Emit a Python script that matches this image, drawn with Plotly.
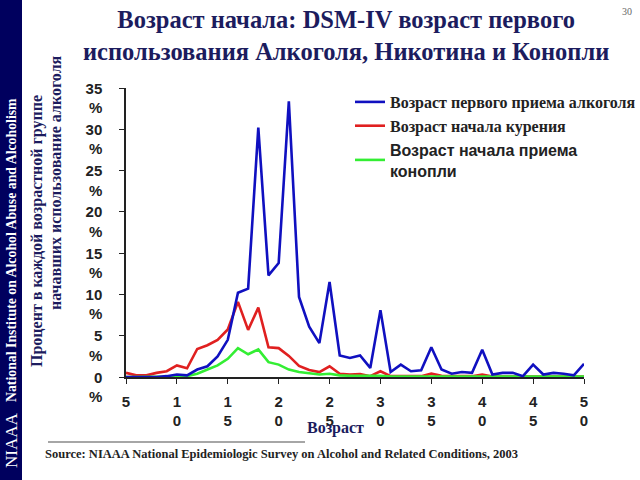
import plotly.graph_objects as go

ages = list(range(5, 51))
alcohol = [0, 0, 0, 0, 0.1, 0.3, 0.2, 0.9, 1.3, 2.5, 4.5, 10.2, 10.7, 30.2, 12.3, 13.8,
           33.4, 9.7, 6.1, 4.1, 11.5, 2.6, 2.3, 2.6, 1.1, 8.1, 0.6, 1.5, 0.7, 0.8, 3.6,
           0.9, 0.4, 0.6, 0.5, 3.3, 0.3, 0.5, 0.5, 0.1, 1.5, 0.3, 0.5, 0.4, 0.2, 1.6]
smoking = [0.5, 0.2, 0.2, 0.5, 0.7, 1.4, 1.05, 3.4, 3.85, 4.5, 5.75, 9.1, 5.7, 8.4, 3.6, 3.5,
           2.55, 1.35, 0.85, 0.6, 1.3, 0.4, 0.3, 0.35, 0.1, 0.7, 0.1, 0.1, 0.15, 0.1, 0.4,
           0.15, 0.1, 0.1, 0.1, 0.3, 0.05, 0.05, 0.05, 0.05, 0.1, 0.05, 0.05, 0.05, 0.05, 0.05]
cannabis = [0, 0, 0, 0, 0, 0.05, 0.1, 0.4, 0.9, 1.4, 2.2, 3.5, 2.75, 3.35, 1.8, 1.5,
            0.9, 0.6, 0.45, 0.3, 0.4, 0.2, 0.15, 0.15, 0.1, 0.15, 0.05, 0.05, 0.05, 0.05, 0.05,
            0.05, 0.05, 0.05, 0.05, 0.05, 0.05, 0.05, 0.05, 0.05, 0.05, 0.05, 0.05, 0.05, 0.05, 0.05]

names = ['<span style="font-family:Liberation Serif">Возраст первого приема алкоголя</span>',
         '<span style="font-family:Liberation Serif">Возраст начала курения</span>',
         '<span style="font-family:Liberation Sans">Возраст начала приема<br>конопли</span>']
x_tick_vals = [5, 10, 15, 20, 25, 30, 35, 40, 45, 50]
x_tick_text = ["5", "1<br>0", "1<br>5", "2<br>0", "2<br>5", "3<br>0", "3<br>5", "4<br>0", "4<br>5", "5<br>0"]
y_tick_vals = [0, 5, 10, 15, 20, 25, 30, 35]
y_tick_text = ["0<br>%", "5<br>%", "10<br>%", "15<br>%", "20<br>%", "25<br>%", "30<br>%", "35<br>%"]

NAVY = "#1c1c5e"
fig = go.Figure()
fig.add_trace(go.Scatter(x=ages, y=smoking, mode="lines", name=names[1], legendrank=2,
                         legendgroup="b", line=dict(color="#e02020", width=2.6)))
fig.add_trace(go.Scatter(x=ages, y=cannabis, mode="lines", name=names[2], legendrank=3,
                         legendgroup="c", line=dict(color="#33ee33", width=2.6)))
fig.add_trace(go.Scatter(x=ages, y=alcohol, mode="lines", name=names[0], legendrank=1,
                         legendgroup="a", line=dict(color="#1010c0", width=2.6)))

L, R, T, B = 126, 56, 88, 103
W = 640 - L - R
H = 480 - T - B
def px(x):
    return (x - L) / W
def py(y):
    return (480 - B - y) / H

fig.update_layout(
    width=640, height=480,
    margin=dict(l=L, r=R, t=T, b=B, autoexpand=False),
    paper_bgcolor="white", plot_bgcolor="white",
    showlegend=True,
    legend=dict(x=px(350), y=py(85), xanchor="left", yanchor="top",
                font=dict(family="Liberation Serif", size=16, color="#222222", weight="bold"),
                bgcolor="rgba(0,0,0,0)", tracegroupgap=0, traceorder="grouped",
                itemwidth=30),
    xaxis=dict(range=[5, 50], tickvals=x_tick_vals, ticktext=x_tick_text,
               showgrid=False, zeroline=False, showline=True, linecolor="#222222",
               linewidth=1.5, ticks="outside", ticklen=5, tickcolor="#222222",
               tickfont=dict(family="Liberation Sans", size=15, color="#222222", weight="bold"),
               ticklabelstandoff=5, fixedrange=True, automargin=False),
    yaxis=dict(range=[0, 35], tickvals=y_tick_vals, ticktext=y_tick_text,
               showgrid=False, zeroline=False, showline=True, linecolor="#222222",
               linewidth=1.5, ticks="outside", ticklen=5, tickcolor="#222222",
               tickfont=dict(family="Liberation Sans", size=15, color="#222222", weight="bold"),
               ticklabelshift=10, ticklabelstandoff=14, fixedrange=True, automargin=False),
)

fig.add_shape(type="rect", xref="paper", yref="paper", x0=px(0), x1=px(22), y0=py(480), y1=py(0),
              fillcolor="#00005e", line=dict(width=0), layer="below")
fig.add_shape(type="line", xref="paper", yref="paper", x0=px(48), x1=px(305), y0=py(442), y1=py(442),
              line=dict(color="#888888", width=1.5))

ann = [
    dict(text="<b>Возраст начала: DSM-IV возраст первого<br>использования Алкоголя, Никотина и Конопли</b>",
         x=px(346), y=py(35), font=dict(family="Liberation Serif", size=24.5, color=NAVY)),
    dict(text="30", x=px(627), y=py(12), font=dict(family="Liberation Serif", size=10, color="#666666")),
    dict(text="<b>Процент в каждой возрастной группе</b>", x=px(37), y=py(231), textangle=-90,
         font=dict(family="Liberation Serif", size=16, color=NAVY)),
    dict(text="<b>начавших использование алкоголя</b>", x=px(55), y=py(183), textangle=-90,
         font=dict(family="Liberation Serif", size=16, color=NAVY)),
    dict(text="<b>Возраст</b>", x=px(335), y=py(428),
         font=dict(family="Liberation Serif", size=16, color=NAVY)),
    dict(text="<b>Source: NIAAA National Epidemiologic Survey on Alcohol and Related Conditions, 2003</b>",
         x=px(281), y=py(454), font=dict(family="Liberation Serif", size=12.5, color="#222222")),
    dict(text="NIAAA", x=px(11), y=py(441), textangle=-90,
         font=dict(family="Liberation Serif", size=17, color="white")),
    dict(text="<b>National Institute on Alcohol Abuse and Alcoholism</b>", x=px(12), y=py(250), textangle=-90,
         font=dict(family="Liberation Serif", size=13.8, color="white")),
]
for a in ann:
    fig.add_annotation(xref="paper", yref="paper", showarrow=False, xanchor="center", yanchor="middle", **a)

fig.write_html("out.html", config={"displayModeBar": False},
               post_script="document.body.style.margin='0';")
